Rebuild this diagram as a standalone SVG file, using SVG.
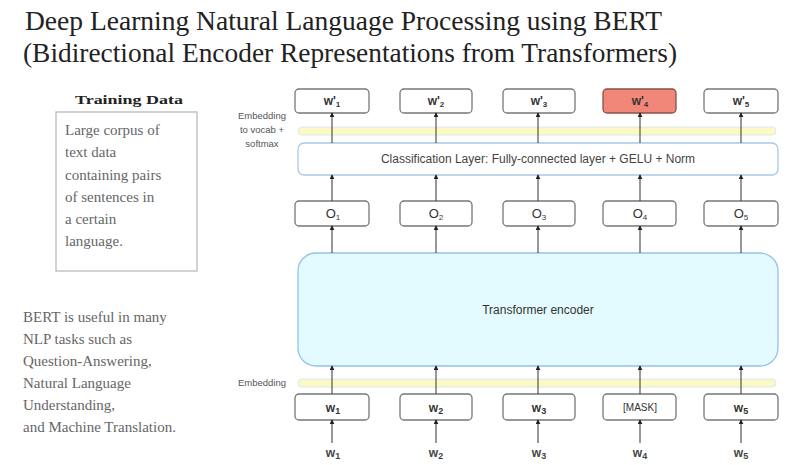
<svg xmlns="http://www.w3.org/2000/svg" width="790" height="465" viewBox="0 0 790 465">
<style>
.title{font-family:"Liberation Serif","Times New Roman",serif;font-size:28px;fill:#222}
.serif{font-family:"Liberation Serif","Times New Roman",serif;font-size:15px;fill:#666}
.box{fill:#fff;stroke:#777;stroke-width:1.3}
.lbl{font-family:"Liberation Sans",Arial,sans-serif;font-size:12px;fill:#333;text-anchor:middle;font-weight:bold}
.olbl{font-family:"Liberation Sans",Arial,sans-serif;font-size:13px;fill:#333;text-anchor:middle}
.sm{font-family:"Liberation Sans",Arial,sans-serif;font-size:9.5px;fill:#555;text-anchor:middle}
.band{fill:#fdf9c4;stroke:#dbe8f0;stroke-width:1}
.arr{stroke:#333;stroke-width:1;fill:none;marker-end:url(#ah)}
.in{font-family:"Liberation Sans",Arial,sans-serif;font-size:12px;fill:#444;text-anchor:middle;font-weight:bold}
</style>
<defs>
<marker id="ah" viewBox="0 0 6 6" refX="5" refY="3" markerWidth="5" markerHeight="5" orient="auto" markerUnits="userSpaceOnUse">
<path d="M0,0 L6,3 L0,6 z" fill="#222"/>
</marker>
</defs>
<rect width="790" height="465" fill="#fff"/>
<g id="title">
<text class="title" x="25" y="30" textLength="637" lengthAdjust="spacingAndGlyphs">Deep Learning Natural Language Processing using BERT</text>
<text class="title" x="23" y="62" textLength="654" lengthAdjust="spacingAndGlyphs">(Bidirectional Encoder Representations from Transformers)</text>
</g>
<g id="training-data">
<text x="75" y="104" style="font-family:'Liberation Serif',serif;font-size:13px;font-weight:bold;fill:#222" textLength="108" lengthAdjust="spacingAndGlyphs">Training Data</text>
<rect x="56" y="112" width="141" height="159" fill="#fff" stroke="#bbb" stroke-width="1.3"/>
<text class="serif" x="65" y="135">Large corpus of</text>
<text class="serif" x="65" y="157">text data</text>
<text class="serif" x="65" y="180">containing pairs</text>
<text class="serif" x="65" y="202">of sentences in</text>
<text class="serif" x="65" y="224">a certain</text>
<text class="serif" x="65" y="246">language.</text>
</g>
<g id="bert-note">
<text class="serif" x="23" y="322">BERT is useful in many</text>
<text class="serif" x="23" y="344">NLP tasks such as</text>
<text class="serif" x="23" y="366">Question-Answering,</text>
<text class="serif" x="23" y="388">Natural Language</text>
<text class="serif" x="23" y="410">Understanding,</text>
<text class="serif" x="23" y="432">and Machine Translation.</text>
</g>
<g id="labels">
<text class="sm" x="262" y="119">Embedding</text>
<text class="sm" x="262" y="133">to vocab +</text>
<text class="sm" x="262" y="147">softmax</text>
<text class="sm" x="262" y="386">Embedding</text>
</g>
<g id="band-top"><rect class="band" x="298" y="127" width="478" height="8" rx="4"/></g>
<g id="band-bottom"><rect class="band" x="298" y="379" width="478" height="8" rx="4"/></g>
<g id="classification">
<rect x="298" y="143" width="480" height="32" rx="6" fill="#fff" stroke="#a9c8e6" stroke-width="1.3"/>
<text x="538" y="163" style="font-family:'Liberation Sans',Arial,sans-serif;font-size:12px;fill:#444;text-anchor:middle">Classification Layer: Fully-connected layer + GELU + Norm</text>
</g>
<g id="encoder">
<rect x="298" y="253" width="480" height="113" rx="18" fill="#e3fbfe" stroke="#93c4e6" stroke-width="1.3"/>
<text x="538" y="314" style="font-family:'Liberation Sans',Arial,sans-serif;font-size:12px;fill:#333;text-anchor:middle">Transformer encoder</text>
</g>
<g id="outputs-top">
<g id="wp1"><rect class="box" x="295" y="89" width="74" height="24" rx="4"/><text class="lbl" x="332" y="105">w'<tspan font-size="8" dy="2">1</tspan></text></g>
<g id="wp2"><rect class="box" x="400" y="89" width="72" height="24" rx="4"/><text class="lbl" x="436" y="105">w'<tspan font-size="8" dy="2">2</tspan></text></g>
<g id="wp3"><rect class="box" x="503" y="89" width="72" height="24" rx="4"/><text class="lbl" x="539" y="105">w'<tspan font-size="8" dy="2">3</tspan></text></g>
<g id="wp4"><rect x="603" y="89" width="73" height="24" rx="4" fill="#f08778" stroke="#8a5048" stroke-width="1.3"/><text class="lbl" x="640" y="105">w'<tspan font-size="8" dy="2">4</tspan></text></g>
<g id="wp5"><rect class="box" x="704" y="89" width="74" height="24" rx="4"/><text class="lbl" x="741" y="105">w'<tspan font-size="8" dy="2">5</tspan></text></g>
</g>
<g id="outputs-o">
<g id="o1"><rect class="box" x="295" y="201" width="74" height="25" rx="4"/><text class="olbl" x="333" y="218">O<tspan font-size="8" dy="2">1</tspan></text></g>
<g id="o2"><rect class="box" x="400" y="201" width="72" height="25" rx="4"/><text class="olbl" x="436" y="218">O<tspan font-size="8" dy="2">2</tspan></text></g>
<g id="o3"><rect class="box" x="503" y="201" width="72" height="25" rx="4"/><text class="olbl" x="539" y="218">O<tspan font-size="8" dy="2">3</tspan></text></g>
<g id="o4"><rect class="box" x="603" y="201" width="73" height="25" rx="4"/><text class="olbl" x="640" y="218">O<tspan font-size="8" dy="2">4</tspan></text></g>
<g id="o5"><rect class="box" x="704" y="201" width="74" height="25" rx="4"/><text class="olbl" x="741" y="218">O<tspan font-size="8" dy="2">5</tspan></text></g>
</g>
<g id="inputs-w">
<g id="w1"><rect class="box" x="295" y="394" width="74" height="26" rx="4"/><text class="lbl" x="333" y="412">w<tspan font-size="9" dy="2">1</tspan></text></g>
<g id="w2"><rect class="box" x="400" y="394" width="72" height="26" rx="4"/><text class="lbl" x="436" y="412">w<tspan font-size="9" dy="2">2</tspan></text></g>
<g id="w3"><rect class="box" x="503" y="394" width="72" height="26" rx="4"/><text class="lbl" x="539" y="412">w<tspan font-size="9" dy="2">3</tspan></text></g>
<g id="mask"><rect class="box" x="603" y="394" width="73" height="26" rx="4"/><text x="640" y="411" style="font-family:'Liberation Sans',Arial,sans-serif;font-size:10px;fill:#333;text-anchor:middle">[MASK]</text></g>
<g id="w5"><rect class="box" x="704" y="394" width="74" height="26" rx="4"/><text class="lbl" x="741" y="412">w<tspan font-size="9" dy="2">5</tspan></text></g>
</g>
<g id="input-labels">
<text class="in" x="333" y="457">w<tspan font-size="9" dy="2">1</tspan></text>
<text class="in" x="436" y="457">w<tspan font-size="9" dy="2">2</tspan></text>
<text class="in" x="539" y="457">w<tspan font-size="9" dy="2">3</tspan></text>
<text class="in" x="640" y="457">w<tspan font-size="9" dy="2">4</tspan></text>
<text class="in" x="741" y="457">w<tspan font-size="9" dy="2">5</tspan></text>
</g>
<g id="connectors">
<path class="arr" d="M332,443 V420"/><path class="arr" d="M436,443 V420"/><path class="arr" d="M538,443 V420"/><path class="arr" d="M640,443 V420"/><path class="arr" d="M741,443 V420"/>
<path class="arr" d="M332,394 V366"/><path class="arr" d="M436,394 V366"/><path class="arr" d="M538,394 V366"/><path class="arr" d="M640,394 V366"/><path class="arr" d="M741,394 V366"/>
<path class="arr" d="M332,253 V226"/><path class="arr" d="M436,253 V226"/><path class="arr" d="M538,253 V226"/><path class="arr" d="M640,253 V226"/><path class="arr" d="M741,253 V226"/>
<path class="arr" d="M332,201 V175"/><path class="arr" d="M436,201 V175"/><path class="arr" d="M538,201 V175"/><path class="arr" d="M640,201 V175"/><path class="arr" d="M741,201 V175"/>
<path class="arr" d="M332,143 V113"/><path class="arr" d="M436,143 V113"/><path class="arr" d="M538,143 V113"/><path class="arr" d="M640,143 V113"/><path class="arr" d="M741,143 V113"/>
</g>
</svg>
